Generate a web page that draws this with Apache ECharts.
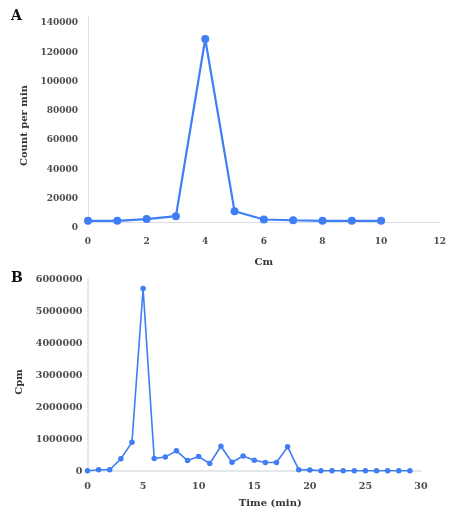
<!DOCTYPE html>
<html><head><meta charset="utf-8">
<script src="https://cdn.jsdelivr.net/npm/echarts@6/dist/echarts.min.js"></script>
<style>html,body{margin:0;padding:0;background:#fff}#c{width:449px;height:511px}</style>
</head><body><div id="c"></div>
<script>
// Panel A
const cmPositions = [0,1,2,3,4,5,6,7,8,9,10];
const countPerMin = [800,800,2000,4000,125000,7300,1700,1200,800,800,800];
const xTicksA = [0,2,4,6,8,10,12];
// Panel B
const timeMin = [0,1,2,3,4,5,6,7,8,9,10,11,12,13,14,15,16,17,18,19,20,21,22,23,24,25,26,27,28,29];
const cpm = [10000,40000,40000,380000,900000,5700000,390000,440000,630000,325000,450000,235000,775000,275000,470000,335000,265000,265000,755000,40000,35000,8000,8000,8000,8000,8000,8000,8000,8000,8000];

const FONT = '"DejaVu Serif", serif';
const blue = '#3f7ef5';
const axisCol = '#dcdfe3';
const labA = {fontFamily: FONT, fontWeight: 'bold', fontSize: 9, color: '#4d4d4d'};
const labB = {fontFamily: FONT, fontWeight: 'bold', fontSize: 9.6, color: '#4d4d4d'};
const nameStyle = {fontFamily: FONT, fontWeight: 'bold', fontSize: 10, color: '#333'};
const plain = v => String(v);

const chart = echarts.init(document.getElementById('c'));
chart.setOption({
  animation: false,
  graphic: [
    {type:'text', left: 11, top: 9, style:{text:'A', font:'bold 14px "DejaVu Serif", serif', fill:'#111'}},
    {type:'text', left: 11, top: 271, style:{text:'B', font:'bold 14px "DejaVu Serif", serif', fill:'#111'}}
  ],
  grid: [
    {left: 88, right: 4, top: 17, height: 205},
    {left: 87.5, right: 28, top: 279, height: 192}
  ],
  xAxis: [
    {gridIndex:0, type:'value', min:0, max:12, interval:2,
     name:'Cm', nameLocation:'middle', nameGap:35, nameTextStyle: nameStyle,
     axisLine:{show:true, onZero:false, lineStyle:{color:axisCol, width:1}}, axisTick:{show:false},
     splitLine:{show:false}, axisLabel:Object.assign({margin:15, formatter: plain}, labA)},
    {gridIndex:1, type:'value', min:0, max:30, interval:5,
     name:'Time (min)', nameLocation:'middle', nameGap:27,
     nameTextStyle: Object.assign({padding:[0,0,0,32]}, nameStyle),
     axisLine:{show:true, onZero:false, lineStyle:{color:axisCol, width:1.5}}, axisTick:{show:false},
     splitLine:{show:false}, axisLabel:Object.assign({margin:10, formatter: plain}, labB)}
  ],
  yAxis: [
    {gridIndex:0, type:'value', min:0, max:140000, interval:20000,
     name:'Count per min', nameLocation:'middle', nameRotate:90, nameGap:52,
     nameTextStyle: Object.assign({padding:[0,12,0,0]}, nameStyle),
     axisLine:{show:true, lineStyle:{color:axisCol, width:1}}, axisTick:{show:false},
     splitLine:{show:false},
     axisLabel:Object.assign({margin:10, formatter: plain, verticalAlign:'top', lineHeight:12}, labA)},
    {gridIndex:1, type:'value', min:0, max:6000000, interval:1000000,
     name:'Cpm', nameLocation:'middle', nameRotate:90, nameGap:52,
     nameTextStyle: Object.assign({padding:[0,14,0,0]}, nameStyle),
     axisLine:{show:true, lineStyle:{color:axisCol, width:1.5}}, axisTick:{show:false},
     splitLine:{show:false}, axisLabel:Object.assign({margin:5, formatter: plain}, labB)}
  ],
  series: [
    {type:'line', xAxisIndex:0, yAxisIndex:0,
     data: cmPositions.map((x,i)=>[x,countPerMin[i]]),
     symbol:'circle', symbolSize:8, lineStyle:{color:blue, width:2.2}, itemStyle:{color:blue}},
    {type:'line', xAxisIndex:1, yAxisIndex:1,
     data: timeMin.map((x,i)=>[x,cpm[i]]),
     symbol:'circle', symbolSize:5.5, lineStyle:{color:blue, width:1.6}, itemStyle:{color:blue}}
  ]
});
</script></body></html>
